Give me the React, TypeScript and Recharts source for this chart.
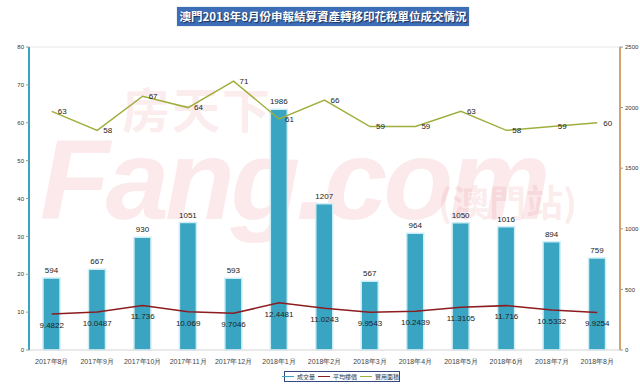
import React from 'react';
import { ComposedChart, Bar, Line, XAxis, YAxis, CartesianGrid, LabelList } from 'recharts';

const months = ['2017年8月','2017年9月','2017年10月','2017年11月','2017年12月','2018年1月','2018年2月','2018年3月','2018年4月','2018年5月','2018年6月','2018年7月','2018年8月'];
const volume = [594, 667, 930, 1051, 593, 1986, 1207, 567, 964, 1050, 1016, 894, 759];
const avgPrice = [9.4822, 10.0487, 11.736, 10.069, 9.7046, 12.4481, 11.0243, 9.9543, 10.2439, 11.3105, 11.716, 10.5332, 9.9254];
const usableArea = [63, 58, 67, 64, 71, 61, 66, 59, 59, 63, 58, 59, 60];
const leftTicks = [0, 10, 20, 30, 40, 50, 60, 70, 80];
const rightTicks = [0, 500, 1000, 1500, 2000, 2500];
const seriesNames = ['成交量', '平均樓價', '實用面積'];
const title = '澳門2018年8月份申報結算資產轉移印花稅單位成交情況';

const data = months.map((m, i) => ({ month: m, vol: volume[i], price: avgPrice[i], area: usableArea[i] }));

const BLUE = '#39a5c3';
const RED = '#8c1c1f';
const GREEN = '#a0ae3c';
const FONT = '"Liberation Sans", Arial, sans-serif';
const WM = 'rgba(225,110,120,0.15)';

export default function App() {
  const legendColors = [BLUE, RED, GREEN];
  return (
    <div style={{ position: 'absolute', left: 0, top: 0, width: 640, height: 387, background: '#fff', overflow: 'hidden', fontFamily: FONT }}>
      {/* watermark */}
      <div style={{ position: 'absolute', left: 122, top: 72, fontSize: 48, fontWeight: 'bold', color: WM, fontFamily: '"Noto Sans CJK SC"', letterSpacing: 2 }}>房天下</div>
      <div style={{ position: 'absolute', left: 40, top: 114, fontSize: 114, fontWeight: 'bold', fontStyle: 'italic', color: WM, fontFamily: FONT, letterSpacing: -4 }}>Fang.com</div>
      <div style={{ position: 'absolute', left: 438, top: 174, fontSize: 37, fontWeight: 'bold', color: WM, fontFamily: '"Noto Sans CJK TC"' }}>(澳門站)</div>

      <div style={{ position: 'absolute', left: 0, top: 0 }}>
        <ComposedChart width={640} height={387} data={data} margin={{ top: 47, right: 0, bottom: 21, left: 0 }}>
          <CartesianGrid vertical={false} stroke="#e6e6e6" strokeWidth={1} />
          <XAxis dataKey="month" height={16} tickLine={false} axisLine={{ stroke: '#e0e0e0' }}
            tick={{ fontSize: 7, fill: '#444', fontFamily: FONT }} interval={0} tickMargin={3} />
          <YAxis yAxisId="left" domain={[0, 80]} ticks={leftTicks} width={29}
            axisLine={{ stroke: BLUE, strokeWidth: 2 }} tickLine={{ stroke: '#999' }} tickSize={3}
            tick={{ fontSize: 6, fill: '#333', fontFamily: FONT }} />
          <YAxis yAxisId="right" orientation="right" domain={[0, 2500]} ticks={rightTicks} width={20}
            axisLine={{ stroke: '#d6a46a', strokeWidth: 2 }} tickLine={{ stroke: '#999' }} tickSize={3}
            tick={{ fontSize: 6, fill: '#333', fontFamily: FONT }} />
          <Bar yAxisId="right" dataKey="vol" name={seriesNames[0]} fill={BLUE} stroke="#cdeef5" strokeWidth={1.5} barSize={17} isAnimationActive={false}>
            <LabelList dataKey="vol" position="top" offset={5} style={{ fontSize: 8, fill: '#222', fontFamily: FONT }} />
          </Bar>
          <Line yAxisId="left" type="linear" dataKey="price" name={seriesNames[1]} stroke={RED} strokeWidth={1.5} dot={false} isAnimationActive={false}>
            <LabelList dataKey="price" position="bottom" offset={8} style={{ fontSize: 8, fill: '#222', fontFamily: FONT }} />
          </Line>
          <Line yAxisId="left" type="linear" dataKey="area" name={seriesNames[2]} stroke={GREEN} strokeWidth={1.5} dot={false} isAnimationActive={false}>
            <LabelList dataKey="area" position="right" offset={6} style={{ fontSize: 8, fill: '#222', fontFamily: FONT }} />
          </Line>
        </ComposedChart>
      </div>

      {/* title */}
      <div style={{ position: 'absolute', left: 177, top: 7, width: 292, height: 19, background: '#3d6db6', color: '#fff', fontWeight: 'bold', fontSize: 11.5, lineHeight: '19px', textAlign: 'center', whiteSpace: 'nowrap', fontFamily: '"Noto Sans CJK TC"', textShadow: '1px 1px 1px #1c2f55', boxShadow: '0 0 1px #9ab' }}>{title}</div>

      {/* legend */}
      <div style={{ position: 'absolute', left: 284, top: 371, width: 114, height: 9, border: '1px solid #34497f', display: 'flex', alignItems: 'center', justifyContent: 'center', fontSize: 6, color: '#333', fontFamily: '"Noto Sans CJK TC"', whiteSpace: 'nowrap' }}>
        {seriesNames.map((n, i) => (
          <span key={n} style={{ display: 'flex', alignItems: 'center', marginRight: 3 }}>
            <span style={{ display: 'inline-block', width: 12, height: 1.5, background: legendColors[i], marginRight: 3 }} />
            {n}
          </span>
        ))}
      </div>
    </div>
  );
}
